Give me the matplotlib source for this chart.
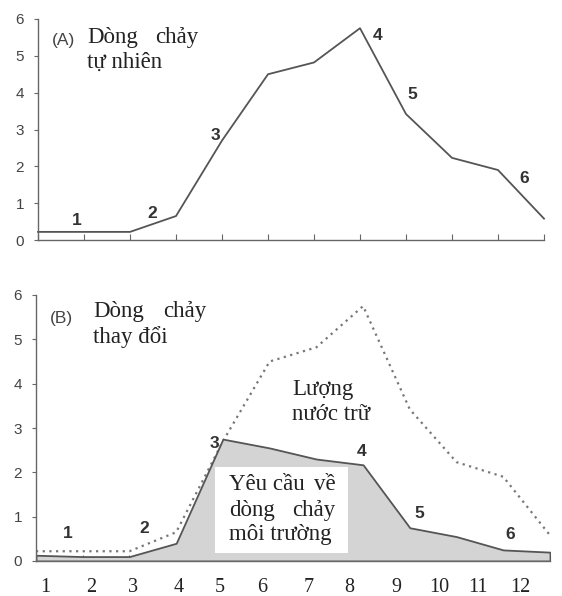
import matplotlib
matplotlib.use("Agg")
import matplotlib.pyplot as plt

# Data
steps = list(range(12))
natural_flow = [0.22, 0.22, 0.22, 0.65, 2.7, 4.5, 4.82, 5.75, 3.42, 2.23, 1.9, 0.58]
env_flow = [0.13, 0.1, 0.1, 0.4, 2.75, 2.55, 2.3, 2.17, 0.75, 0.55, 0.25, 0.2]
month_labels = ["1", "2", "3", "4", "5", "6", "7", "8", "9", "10", "11", "12"]
month_pos = [0.19, 1.18, 2.08, 3.06, 3.94, 4.84, 5.83, 6.70, 7.71, 8.63, 9.46, 10.36]
point_labels = ["1", "2", "3", "4", "5", "6"]
top_label_xy = [(0.85, 0.54), (2.48, 0.73), (3.85, 2.85), (7.39, 5.54), (8.13, 3.94), (10.57, 1.66)]
bot_label_xy = [(0.69, 0.63), (2.31, 0.74), (3.81, 2.66), (6.96, 2.46), (8.2, 1.08), (10.15, 0.59)]

SERIF = "Liberation Serif"
SANS = "Liberation Sans"
axis_col = "#666666"
line_col = "#555555"
txt_col = "#222222"

fig = plt.figure(figsize=(5.62, 5.96), dpi=100)
ax1 = fig.add_axes([38 / 562, 1 - 240 / 596, 506 / 562, 221 / 596])
ax2 = fig.add_axes([36 / 562, 1 - 561 / 596, 514 / 562, 266 / 596])

# pixel helpers for placing annotations (pixel offsets inside each panel)
def top_xy(px, py):
    return (px - 38) / 46.0, (240 - py) / 36.8

def bot_xy(px, py):
    return (px - 36) / 46.7, (561 - py) / 44.3


def style_axes(ax):
    ax.set_xlim(0, 11)
    ax.set_ylim(0, 6)
    for s in ["top", "right"]:
        ax.spines[s].set_visible(False)
    for s in ["left", "bottom"]:
        ax.spines[s].set_color(axis_col)
        ax.spines[s].set_linewidth(1.0)
    ax.set_yticks(range(7))
    ax.set_yticklabels([str(i) for i in range(7)], fontfamily=SANS, fontsize=11, color="#444444")
    ax.tick_params(axis="y", length=3, color=axis_col, pad=7)
    ax.set_xticks(steps)
    ax.set_xticklabels([])
    ax.tick_params(axis="x", which="major", direction="in", length=4, color=axis_col)


def serif(ax, xy, s, ha="left", size=16.5):
    ax.text(xy[0], xy[1], s, fontfamily=SERIF, fontsize=size, color=txt_col,
            ha=ha, va="center", zorder=5)


# (A) natural flow
style_axes(ax1)
ax1.plot(steps, natural_flow, color=line_col, lw=1.3, clip_on=False)
for lab, (x, y) in zip(point_labels, top_label_xy):
    ax1.text(x, y, lab, fontfamily=SANS, fontsize=12.5, fontweight="bold", color="#333333",
             ha="center", va="center")
x, y = top_xy(52, 41)
ax1.text(x, y, "(A)", fontfamily=SANS, fontsize=12.5, color="#444444", ha="left", va="center")
serif(ax1, top_xy(87, 38), "Dòng")
serif(ax1, top_xy(198, 38), "chảy", ha="right")
serif(ax1, top_xy(87, 63), "tự nhiên")

# (B) altered flow
style_axes(ax2)
ax2.plot(steps, natural_flow, color="#777777", lw=1.6, linestyle=(0, (1, 2)), clip_on=False)
ax2.fill_between(steps, 0, env_flow, facecolor="#d4d4d4", edgecolor=line_col, lw=1.3, zorder=2)
ax2.set_xticks(month_pos, month_labels, minor=True)
ax2.tick_params(axis="x", which="minor", length=0, pad=12)
for t in ax2.get_xticklabels(minor=True):
    t.set_fontfamily(SERIF)
    t.set_fontsize(14.5)
    t.set_color(txt_col)
for lab, (x, y) in zip(point_labels, bot_label_xy):
    ax2.text(x, y, lab, fontfamily=SANS, fontsize=12.5, fontweight="bold", color="#333333",
             ha="center", va="center", zorder=5)
x, y = bot_xy(50, 319)
ax2.text(x, y, "(B)", fontfamily=SANS, fontsize=12.5, color="#444444", ha="left", va="center")
serif(ax2, bot_xy(93, 312), "Dòng")
serif(ax2, bot_xy(206, 312), "chảy", ha="right")
serif(ax2, bot_xy(93, 337), "thay đổi")
serif(ax2, bot_xy(292, 390), "Lượng")
serif(ax2, bot_xy(292, 415), "nước trữ")

# white box with environmental flow requirement text
bx0, by0 = bot_xy(215, 553)
bx1, by1 = bot_xy(348, 467)
ax2.add_patch(plt.Rectangle((bx0, by0), bx1 - bx0, by1 - by0,
                            facecolor="white", edgecolor="none", zorder=4))
serif(ax2, bot_xy(229, 485), "Yêu cầu")
serif(ax2, bot_xy(335, 485), "về", ha="right")
serif(ax2, bot_xy(229, 511), "dòng")
serif(ax2, bot_xy(335, 511), "chảy", ha="right")
serif(ax2, bot_xy(229, 535), "môi trường")

fig.savefig("out.png", dpi=100, facecolor="white")
